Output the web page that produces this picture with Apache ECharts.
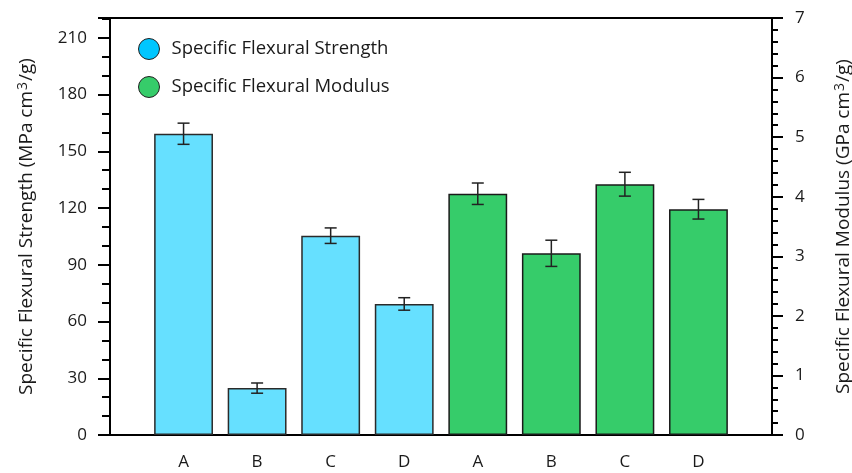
<!DOCTYPE html>
<html>
<head>
<meta charset="utf-8">
<script src="https://cdn.jsdelivr.net/npm/echarts@6/dist/echarts.min.js"></script>
<style>html,body{margin:0;padding:0;background:#fff;}#c{width:852px;height:473px;}</style>
</head>
<body>
<div id="c"></div>
<script>
const groupLabels = ['A', 'B', 'C', 'D'];
const strengthName = 'Specific Flexural Strength';
const modulusName = 'Specific Flexural Modulus';
const strength = [159.3, 24.8, 105.4, 69.3];
const strengthErr = [5.6, 2.7, 4.1, 3.3];
const modulus = [4.05, 3.05, 4.21, 3.79];
const modulusErr = [0.18, 0.22, 0.2, 0.165];
const leftMax = 220.5, leftInterval = 30, leftMinor = 10;
const rightMax = 7, rightInterval = 1;

// category slots: empty padding slot at both ends
const cats = [''].concat(groupLabels, groupLabels, ['']);
const blueData = cats.map(() => null);
const greenData = cats.map(() => null);
const blueErr = [], greenErr = [];
strength.forEach((v, i) => { blueData[i + 1] = v; blueErr.push([i + 1, v, strengthErr[i]]); });
modulus.forEach((v, i) => { greenData[i + 5] = v; greenErr.push([i + 5, v, modulusErr[i]]); });

const FONT = 'Open Sans';
const TXT = '#1a1a1a';

function errRender(params, api) {
  const x = api.value(0), y = api.value(1), e = api.value(2);
  const top = api.coord([x, y + e]);
  const bot = api.coord([x, y - e]);
  const w = 6;
  const st = { stroke: '#222', lineWidth: 1.5 };
  return {
    type: 'group',
    children: [
      { type: 'line', shape: { x1: top[0], y1: top[1], x2: bot[0], y2: bot[1] }, style: st },
      { type: 'line', shape: { x1: top[0] - w, y1: top[1], x2: top[0] + w, y2: top[1] }, style: st },
      { type: 'line', shape: { x1: bot[0] - w, y1: bot[1], x2: bot[0] + w, y2: bot[1] }, style: st }
    ]
  };
}

const supRich = { sup: { fontSize: 14, verticalAlign: 'top', padding: [0, 1, 8, 1], color: TXT, fontFamily: FONT } };

const chart = echarts.init(document.getElementById('c'));
chart.setOption({
  animation: false,
  backgroundColor: '#fff',
  textStyle: { fontFamily: FONT },
  grid: { left: 110, right: 80, top: 18, bottom: 38, outerBoundsMode: 'none', containLabel: false,
    show: true, borderColor: '#000', borderWidth: 2, backgroundColor: 'transparent' },
  legend: {
    orient: 'vertical', left: 133, top: 33, itemWidth: 21, itemHeight: 21, itemGap: 16, icon: 'circle',
    textStyle: { fontFamily: FONT, fontSize: 18.5, color: TXT, padding: [0, 0, 0, 7] },
    itemStyle: { borderColor: '#222', borderWidth: 1 },
    data: [
      { name: strengthName, itemStyle: { color: '#00c6ff' } },
      { name: modulusName, itemStyle: { color: '#36cc6a' } }
    ]
  },
  xAxis: {
    type: 'category', data: cats, boundaryGap: false,
    axisLine: { lineStyle: { color: '#000', width: 2 } },
    axisTick: { show: false },
    axisLabel: { margin: 19, fontSize: 17, color: TXT, fontFamily: FONT, interval: 0 },
    splitLine: { show: false }
  },
  yAxis: [
    {
      type: 'value', position: 'left', min: 0, max: leftMax, interval: leftMinor,
      name: 'Specific Flexural Strength (MPa cm{sup|3}/g)', nameLocation: 'middle', nameGap: 72, nameRotate: 90,
      nameTextStyle: { fontSize: 19, color: TXT, fontFamily: FONT, rich: supRich },
      axisLine: { show: true, lineStyle: { color: '#000', width: 2 } },
      axisTick: { show: true, length: 8, lineStyle: { color: '#000', width: 2 } },
      axisLabel: { margin: 23, fontSize: 17, color: TXT, fontFamily: FONT,
        formatter: v => (Math.abs(v % leftInterval) < 1e-9 ? String(v) : '') },
      splitLine: { show: false }
    },
    {
      type: 'value', position: 'right', min: 0, max: rightMax, interval: rightInterval,
      name: 'Specific Flexural Modulus (GPa cm{sup|3}/g)', nameLocation: 'middle', nameGap: 61, nameRotate: 90,
      nameTextStyle: { fontSize: 19, color: TXT, fontFamily: FONT, rich: supRich },
      axisLine: { show: true, lineStyle: { color: '#000', width: 2 } },
      axisTick: { show: true, length: 11, lineStyle: { color: '#000', width: 2 } },
      minorTick: { show: true, splitNumber: 5, length: 6, lineStyle: { color: '#000', width: 2 } },
      axisLabel: { margin: 23, fontSize: 17, color: TXT, fontFamily: FONT },
      splitLine: { show: false }
    },
    {
      type: 'value', position: 'left', min: 0, max: leftMax, interval: leftInterval,
      axisLine: { show: false },
      axisTick: { show: true, length: 12, lineStyle: { color: '#000', width: 2 } },
      axisLabel: { show: false },
      splitLine: { show: false }
    }
  ],
  series: [
    { name: strengthName, type: 'bar', yAxisIndex: 0, data: blueData, barWidth: '80%', barGap: '-100%',
      itemStyle: { color: '#66e0ff', borderColor: '#2a2a2a', borderWidth: 1.5 } },
    { name: modulusName, type: 'bar', yAxisIndex: 1, data: greenData, barWidth: '80%', barGap: '-100%',
      itemStyle: { color: '#36cc6a', borderColor: '#1a1a1a', borderWidth: 1.5 } },
    { name: 'errS', type: 'custom', yAxisIndex: 0, data: blueErr, renderItem: errRender, encode: { x: 0, y: 1 }, z: 5 },
    { name: 'errM', type: 'custom', yAxisIndex: 1, data: greenErr, renderItem: errRender, encode: { x: 0, y: 1 }, z: 5 }
  ]
});
</script>
</body>
</html>
